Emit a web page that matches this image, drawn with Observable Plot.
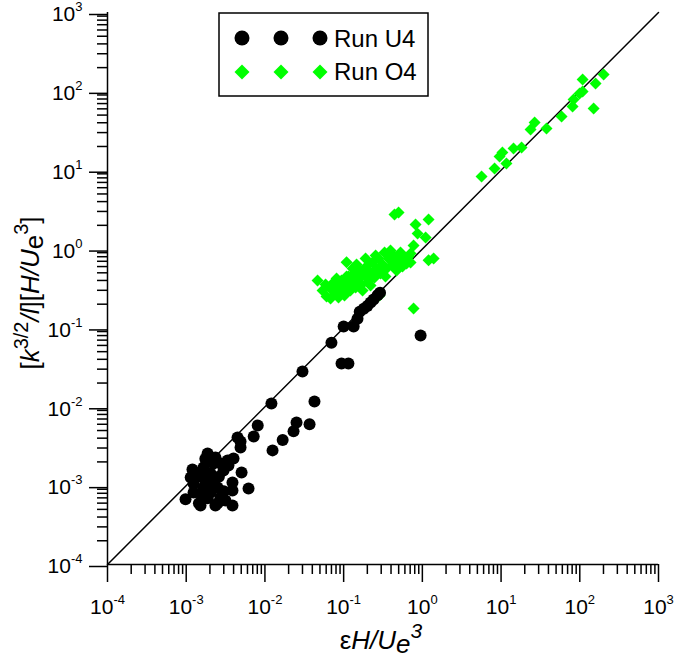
<!DOCTYPE html>
<html>
<head>
<meta charset="utf-8">
<script src="https://cdn.jsdelivr.net/npm/d3@7"></script>
<script src="https://cdn.jsdelivr.net/npm/@observablehq/plot@0.6"></script>
<style>
  html, body { margin: 0; padding: 0; background: #fff; }
  #chart { width: 675px; height: 659px; }
</style>
</head>
<body>
<div id="chart"></div>
<script>
// ---- Data ----
const u4X = [4.49e-3, 4.90e-3, 4.90e-3, 1.87e-3, 2.35e-3, 3.99e-3, 3.44e-3, 5.05e-3, 6.19e-3, 3.87e-3,
  9.8e-4, 1.52e-3, 2.35e-3, 3.87e-3, 1.14e-3, 1.24e-3, 1.66e-3, 2.04e-3, 1.66e-3, 1.52e-3,
  2.04e-3, 2.50e-3, 2.73e-3, 3.15e-3, 1.24e-3, 3.87e-3, 1.87e-3, 2.22e-3, 1.61e-3, 1.39e-3,
  2.98e-3, 2.73e-3, 2.22e-3, 3.35e-3, 1.80e-3, 2.60e-3, 1.95e-3, 3.00e-3, 1.45e-3, 2.50e-3,
  1.20e-3, 1.75e-3,
  0.0072, 0.0081, 0.0121, 0.0125, 0.0168, 0.0231, 0.0252, 0.0369, 0.0426, 0.030,
  0.070, 0.094, 0.115, 0.10, 0.134, 0.150, 0.16, 0.18, 0.20, 0.22, 0.24, 0.27, 0.29, 0.95];
const u4Y = [4.07e-3, 3.63e-3, 3.05e-3, 2.56e-3, 2.28e-3, 2.21e-3, 1.80e-3, 1.47e-3, 9.2e-4, 8.7e-4,
  6.7e-4, 5.6e-4, 5.6e-4, 5.6e-4, 1.27e-3, 1.06e-3, 1.70e-3, 1.43e-3, 9.5e-4, 7.9e-4,
  8.2e-4, 9.5e-4, 7.1e-4, 6.5e-4, 8.2e-4, 1.10e-3, 6.9e-4, 1.16e-3, 1.27e-3, 1.43e-3,
  1.56e-3, 1.91e-3, 1.91e-3, 2.08e-3, 2.00e-3, 1.30e-3, 1.10e-3, 8.5e-4, 6.0e-4, 6.0e-4,
  1.60e-3, 2.20e-3,
  0.0042, 0.0058, 0.0110, 0.0028, 0.0038, 0.0049, 0.0063, 0.0060, 0.0117, 0.028,
  0.065, 0.0354, 0.0354, 0.104, 0.104, 0.131, 0.16, 0.175, 0.19, 0.21, 0.23, 0.26, 0.28, 0.080];

const o4X = [0.054, 0.0589, 0.0607, 0.0682, 0.0682, 0.0745, 0.0766, 0.0836, 0.0861, 0.094,
  0.0968, 0.1026, 0.109, 0.115, 0.122, 0.130, 0.138, 0.142, 0.155, 0.164,
  0.169, 0.184, 0.195, 0.207, 0.220, 0.233, 0.247, 0.262, 0.278, 0.294,
  0.312, 0.331, 0.351, 0.372, 0.394, 0.418, 0.443, 0.470, 0.499, 0.528,
  0.560, 0.594, 0.630, 0.668, 0.708, 0.146, 0.174, 0.109, 0.0813, 0.220,
  0.340, 0.457, 0.255, 0.190, 0.130, 0.286,
  0.443, 0.499, 1.20, 0.82, 0.87, 1.10, 0.773, 0.708, 1.20, 1.39, 0.109, 0.0466, 0.773,
  5.65, 8.27, 11.7, 9.57, 10.4, 14.4, 18.2, 23.7, 26.7, 37.8,
  58.7, 81.0, 83.4, 99.4, 108.6, 108.6, 158.8, 200.9, 149.9];
const o4Y = [0.299, 0.356, 0.251, 0.316, 0.236, 0.377, 0.282, 0.336, 0.243, 0.400,
  0.299, 0.258, 0.356, 0.450, 0.299, 0.388, 0.504, 0.326, 0.424, 0.535,
  0.356, 0.463, 0.601, 0.388, 0.504, 0.676, 0.436, 0.568, 0.760, 0.491,
  0.638, 0.906, 0.568, 0.760, 0.96, 0.620, 0.806, 0.535, 0.717, 0.906,
  0.601, 0.760, 0.657, 0.806, 0.676, 0.638, 0.299, 0.450, 0.424, 0.346,
  0.450, 0.676, 0.83, 0.760, 0.568, 0.258,
  2.74, 2.91, 2.37, 2.05, 1.57, 1.40, 1.11, 0.88, 0.72, 0.76, 0.68, 0.40, 0.176,
  8.33, 10.5, 12.2, 14.9, 16.8, 18.9, 19.4, 32.8, 40.3, 33.8,
  48.0, 64.3, 78.9, 94.0, 99.7, 141.6, 125.9, 163.7, 60.7];

const seriesNames = ["Run U4", "Run O4"];
const axisDomain = [1e-4, 1e3];
const majorTicks = [1e-4, 1e-3, 1e-2, 1e-1, 1, 10, 100, 1000];
const minorMultipliers = [2, 3, 4, 5, 6, 7, 8, 9];
const minorTicks = majorTicks.slice(0, -1).flatMap(p => minorMultipliers.map(m => m * p));
const tickLabels = ["10^-4", "10^-3", "10^-2", "10^-1", "10^0", "10^1", "10^2", "10^3"];
const diagonal = [1e-4, 1e3];

const u4 = u4X.map((x, i) => ({x, y: u4Y[i]}));
const o4 = o4X.map((x, i) => ({x, y: o4Y[i]}));
const diag = diagonal.map(v => ({x: v, y: v}));
const fmt = d => tickLabels[majorTicks.findIndex(t => Math.abs(Math.log10(t) - Math.log10(d)) < 1e-6)];

const FONT = "'Liberation Sans', Arial, sans-serif";
const GREEN = "#00ff00";

const svg = Plot.plot({
  width: 675,
  height: 659,
  marginLeft: 107,
  marginRight: 17,
  marginTop: 12,
  marginBottom: 95,
  style: {fontFamily: FONT, fontSize: "21px", color: "black", background: "white", overflow: "visible"},
  x: {type: "log", domain: axisDomain},
  y: {type: "log", domain: axisDomain},
  marks: [
    Plot.axisX({ticks: minorTicks, tickSize: 10, tickFormat: () => "", label: null, strokeWidth: 1.5}),
    Plot.axisX({ticks: majorTicks, tickSize: 18, tickPadding: 17, tickFormat: fmt, label: null, strokeWidth: 1.5}),
    Plot.axisY({ticks: minorTicks, tickSize: 10, tickFormat: () => "", label: null, strokeWidth: 1.5}),
    Plot.axisY({ticks: majorTicks, tickSize: 18, tickPadding: 7, tickFormat: fmt, label: null, strokeWidth: 1.5, dy: 2}),
    Plot.ruleX([axisDomain[0]], {stroke: "black", strokeWidth: 1.5}),
    Plot.ruleY([axisDomain[0]], {stroke: "black", strokeWidth: 1.5}),
    Plot.line(diag, {x: "x", y: "y", stroke: "black", strokeWidth: 1.5}),
    Plot.dot(o4, {x: "x", y: "y", symbol: "diamond2", r: 5.4, fill: GREEN, stroke: "none"}),
    Plot.dot(u4, {x: "x", y: "y", r: 6, fill: "black", stroke: "none"})
  ]
});

document.getElementById("chart").appendChild(svg);

const s = d3.select(svg);

// Superscript exponents on tick labels, with explicit sizes
s.selectAll("text").filter(function () { return this.textContent.includes("^"); }).each(function () {
  const [base, exp] = this.textContent.split("^");
  const t = d3.select(this);
  t.attr("font-size", 21).style("font-size", "21px").attr("font-family", FONT);
  t.text(base);
  t.append("tspan").attr("dy", -10).attr("font-size", 13).style("font-size", "13px").text(exp);
});

// X axis title: εH/Ue^3
const xt = s.append("text")
  .attr("x", 381).attr("y", 649)
  .attr("text-anchor", "middle")
  .attr("font-family", FONT).attr("font-size", 26).attr("fill", "black");
xt.append("tspan").text("ε");
xt.append("tspan").attr("font-style", "italic").text("H/U");
xt.append("tspan").attr("font-style", "italic").attr("dy", 4).text("e");
xt.append("tspan").attr("font-style", "italic").attr("dy", -15).attr("font-size", 21).text("3");

// Y axis title: [k^{3/2}/l][H/Ue^3]
const yt = s.append("text")
  .attr("transform", "translate(39,293) rotate(-90)")
  .attr("text-anchor", "middle")
  .attr("font-family", FONT).attr("font-size", 26).attr("fill", "black");
yt.append("tspan").text("[");
yt.append("tspan").attr("font-style", "italic").text("k");
yt.append("tspan").attr("dy", -11).attr("font-size", 20).text("3/2");
yt.append("tspan").attr("dy", 11).attr("font-style", "italic").text("/l");
yt.append("tspan").text("][");
yt.append("tspan").attr("font-style", "italic").text("H/U");
yt.append("tspan").attr("dy", 4).text("e");
yt.append("tspan").attr("dy", -15).attr("font-size", 20).text("3");
yt.append("tspan").attr("dy", 11).text("]");

// Legend
const lg = s.append("g").attr("font-family", FONT).attr("font-size", 24).attr("text-anchor", "start");
lg.append("rect").attr("x", 219).attr("y", 13).attr("width", 209).attr("height", 83)
  .attr("fill", "white").attr("stroke", "black").attr("stroke-width", 1.5);
const markerXs = [242, 281, 320];
markerXs.forEach(x => {
  lg.append("circle").attr("cx", x).attr("cy", 38).attr("r", 7.5).attr("fill", "black");
  lg.append("path").attr("d", `M${x},${72 - 7.5}L${x + 7.5},72L${x},${72 + 7.5}L${x - 7.5},72Z`).attr("fill", GREEN);
});
lg.append("text").attr("x", 334).attr("y", 47).text(seriesNames[0]);
lg.append("text").attr("x", 334).attr("y", 80).text(seriesNames[1]);
</script>
</body>
</html>
